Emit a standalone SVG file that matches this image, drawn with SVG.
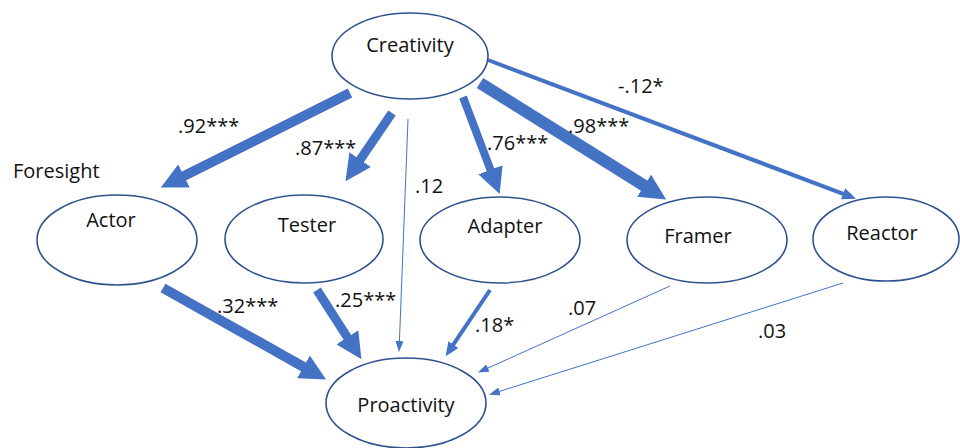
<svg xmlns="http://www.w3.org/2000/svg" width="960" height="448" viewBox="0 0 960 448">
<style>
.node ellipse{fill:#fff;stroke:#2F528F;stroke-width:1.6}
text{font-family:"Open Sans","Liberation Sans",sans-serif;font-size:20px;fill:#111}
.nt{text-anchor:middle}
.e{stroke:#4472C4;fill:none;stroke-linecap:butt}
</style>
<defs>
<marker id="aL" markerUnits="userSpaceOnUse" viewBox="0 0 26 26" markerWidth="26" markerHeight="26" refX="1" refY="13" orient="auto"><path d="M0,0 L26,13 L0,26 z" fill="#4472C4"/></marker>
<marker id="aM" markerUnits="userSpaceOnUse" viewBox="0 0 14 12" markerWidth="14" markerHeight="12" refX="1" refY="6" orient="auto"><path d="M0,0 L14,6 L0,12 z" fill="#4472C4"/></marker>
<marker id="aS" markerUnits="userSpaceOnUse" viewBox="0 0 11 8" markerWidth="11" markerHeight="8" refX="1" refY="4" orient="auto"><path d="M0,0 L11,4 L0,8 z" fill="#4472C4"/></marker>
</defs>
<rect width="960" height="448" fill="#fff"/>
<g id="connectors">
<line class="e" x1="350" y1="93" x2="183.2" y2="176.4" stroke-width="10" marker-end="url(#aL)"/>
<line class="e" x1="392" y1="113" x2="359.6" y2="160.5" stroke-width="9" marker-end="url(#aL)"/>
<line class="e" x1="408" y1="119" x2="399.4" y2="342" stroke-width="1" marker-end="url(#aS)"/>
<line class="e" x1="463" y1="97" x2="490.8" y2="170.7" stroke-width="8" marker-end="url(#aL)"/>
<line class="e" x1="480" y1="83" x2="645" y2="186.2" stroke-width="12" marker-end="url(#aL)"/>
<line class="e" x1="488" y1="60" x2="843.9" y2="194.1" stroke-width="4" marker-end="url(#aM)"/>
<line class="e" x1="163" y1="288" x2="304.3" y2="367.3" stroke-width="10" marker-end="url(#aL)"/>
<line class="e" x1="317" y1="290" x2="347.9" y2="338.1" stroke-width="9" marker-end="url(#aL)"/>
<line class="e" x1="490" y1="290" x2="452.8" y2="345.4" stroke-width="4" marker-end="url(#aM)"/>
<line class="e" x1="670" y1="286" x2="487" y2="368.5" stroke-width="1" marker-end="url(#aS)"/>
<line class="e" x1="843" y1="283" x2="498.5" y2="391.7" stroke-width="1" marker-end="url(#aS)"/>
<text x="178" y="133">.92***</text>
<text x="295" y="155">.87***</text>
<text x="415" y="193">.12</text>
<text x="487" y="150">.76***</text>
<text x="568" y="133">.98***</text>
<text x="618" y="93">-.12*</text>
<text x="217" y="313">.32***</text>
<text x="335" y="307">.25***</text>
<text x="475" y="332">.18*</text>
<text x="568" y="315">.07</text>
<text x="758" y="338">.03</text>
</g>
<text x="13" y="178">Foresight</text>
<g id="creativity" class="node"><ellipse cx="410" cy="56" rx="78" ry="43"/><text class="nt" x="410" y="52">Creativity</text></g>
<g id="actor" class="node"><ellipse cx="117" cy="240" rx="80" ry="45"/><text class="nt" x="111" y="227">Actor</text></g>
<g id="tester" class="node"><ellipse cx="304" cy="239" rx="79" ry="44"/><text class="nt" x="307" y="232">Tester</text></g>
<g id="adapter" class="node"><ellipse cx="500" cy="240" rx="80" ry="43"/><text class="nt" x="505" y="233">Adapter</text></g>
<g id="framer" class="node"><ellipse cx="707" cy="240" rx="80" ry="43"/><text class="nt" x="698" y="243">Framer</text></g>
<g id="reactor" class="node"><ellipse cx="886" cy="239" rx="73" ry="42"/><text class="nt" x="882" y="240">Reactor</text></g>
<g id="proactivity" class="node"><ellipse cx="406" cy="403" rx="80" ry="45"/><text class="nt" x="406" y="412">Proactivity</text></g>
</svg>
